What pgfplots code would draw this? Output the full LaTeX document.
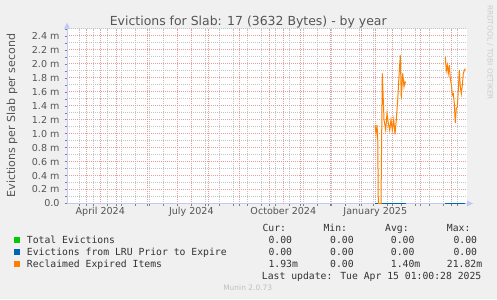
\documentclass[border=0pt]{standalone}
\usepackage{fontspec}
\setmainfont{DejaVu Sans}
\newfontfamily\monof{DejaVu Sans Mono}
\usepackage{pgfplots}
\pgfplotsset{compat=1.18}
\usetikzlibrary{arrows.meta}
\definecolor{bg}{HTML}{F0F0F0}
\definecolor{txt}{HTML}{555555}
\definecolor{ltxt}{HTML}{333333}
\definecolor{mgrid}{HTML}{E49C9C}
\definecolor{ngrid}{HTML}{C4C4C4}
\definecolor{axc}{HTML}{C4C8F4}
\definecolor{cgreen}{HTML}{00CC00}
\definecolor{cblue}{HTML}{0066B3}
\definecolor{corange}{HTML}{FF8000}
\pgfplotstableread{
day val
309.7 1.12
310.7 0.99
311.7 1.12
312.4 0.97
313.0 0.0
315.7 0.0
317.0 1.86
318.7 1.20
320.4 1.05
321.7 1.29
323.0 1.15
324.4 1.05
325.7 1.20
327.0 1.05
328.4 1.20
329.7 0.99
331.0 1.20
332.4 1.48
334.0 1.90
335.0 2.12
336.0 1.50
337.4 1.86
338.7 1.67
339.7 1.74
340.4 1.72
}\orangeA
\pgfplotstableread{
day val
380.0 2.10
381.0 1.90
382.0 1.98
383.0 1.86
384.0 1.98
385.0 1.79
386.4 1.67
387.0 1.55
388.0 1.57
389.0 1.43
390.0 1.15
391.0 1.36
392.0 1.38
393.0 1.62
394.0 1.91
395.0 1.67
396.0 1.57
397.0 1.69
398.0 1.86
399.0 1.90
400.0 1.93
}\orangeB
\begin{document}
\begin{tikzpicture}[x=1bp,y=1bp]
\fill[bg] (0,0) rectangle (497,299);
\begin{axis}[
  at={(67bp,95.5bp)}, anchor=south west,
  scale only axis, width=400bp, height=174.8bp,
  xmin=1.7, xmax=401.7, ymin=0, ymax=2.5,
  axis background/.style={fill=white},
  axis x line*=bottom, axis y line*=left,
  axis line style={draw=axc, line width=0.8bp},
  xtick={21,51,82,112,143,174,204,235,265,296,327,355,386},
  xticklabels={},
  minor xtick={14,28,42,56,70,84,98,126,140,154,168,182,196,210,224,238,252,266,280,294,308,322,336,350,364,378,392},
  ytick={0,0.2,0.4,0.6,0.8,1.0,1.2,1.4,1.6,1.8,2.0,2.2,2.4},
  yticklabels={0.0,0.2 m,0.4 m,0.6 m,0.8 m,1.0 m,1.2 m,1.4 m,1.6 m,1.8 m,2.0 m,2.2 m,2.4 m},
  minor ytick={0.1,0.3,0.5,0.7,0.9,1.1,1.3,1.5,1.7,1.9,2.1,2.3,2.5},
  grid=both,
  major grid style={draw=mgrid, line width=1bp, dash pattern=on 1bp off 1bp},
  minor grid style={draw=ngrid, line width=1bp, dash pattern=on 1bp off 1bp},
  tick align=outside, major tick length=2.5bp, minor tick length=2bp,
  extra x ticks={35,126,218,310},
  extra x tick labels={April 2024,July 2024,October 2024,January 2025},
  extra x tick style={major tick length=0pt},
  ticklabel style={font=\fontsize{9.6}{11}\selectfont, text=txt},
  yticklabel style={xshift=-1.5bp},
]
\addplot[cgreen, line width=1bp] coordinates {(309.7,0) (340.4,0)};
\addplot[cgreen, line width=1bp] coordinates {(380,0) (400,0)};
\addplot[cblue, line width=1bp] coordinates {(309.7,0) (340.4,0)};
\addplot[cblue, line width=1bp] coordinates {(380,0) (400,0)};
\addplot[corange, line width=1bp] table[x=day,y=val] {\orangeA};
\addplot[corange, line width=1bp] table[x=day,y=val] {\orangeB};
\end{axis}
\fill[axc] (473,95.5) -- (467,98.5) -- (467,92.5) -- cycle;
\fill[axc] (67,276.3) -- (64,270.3) -- (70,270.3) -- cycle;
\node[anchor=base, text=txt, font=\fontsize{12.5}{14}\selectfont, inner sep=0] at (248.3,274) {Evictions for Slab: 17 (3632 Bytes) - by year};
\node[anchor=base, rotate=90, text=txt, font=\fontsize{11.1}{13}\selectfont, inner sep=0] at (15,183.5) {Evictions per Slab per second};
\node[anchor=base, rotate=-90, text=black!20, font=\fontsize{7.4}{9}\selectfont, inner sep=0] at (487.5,246.5) {RRDTOOL / TOBI OETIKER};
\begin{scope}[every node/.style={anchor=base west, inner sep=0, text=ltxt, font=\monof\fontsize{9.8}{11}\selectfont}]
\node at (262.3,67.4) {Cur:}; \node at (323.3,67.4) {Min:}; \node at (385.0,67.4) {Avg:}; \node at (446.7,67.4) {Max:};
\fill[cgreen] (14.3,55.7) rectangle (20.3,61.7);
\node at (26.7,55.4) {Total Evictions};
\node at (268.3,55.4) {0.00}; \node at (330.0,55.4) {0.00}; \node at (390.7,55.4) {0.00}; \node at (453.3,55.4) {0.00};
\fill[cblue] (14.3,43.7) rectangle (20.3,49.7);
\node at (26.7,43.4) {Evictions from LRU Prior to Expire};
\node at (268.3,43.4) {0.00}; \node at (330.0,43.4) {0.00}; \node at (390.7,43.4) {0.00}; \node at (453.3,43.4) {0.00};
\fill[corange] (14.3,31.7) rectangle (20.3,37.7);
\node at (26.7,31.4) {Reclaimed Expired Items};
\node at (268.3,31.4) {1.93m}; \node at (330.0,31.4) {0.00}; \node at (390.7,31.4) {1.40m}; \node at (446.7,31.4) {21.82m};
\node at (261.7,19.4) {Last update: Tue Apr 15 01:00:28 2025};
\end{scope}
\node[anchor=base, inner sep=0, text=black!25, font=\fontsize{7.5}{9}\selectfont] at (247.7,8.5) {Munin 2.0.73};
\end{tikzpicture}
\end{document}
